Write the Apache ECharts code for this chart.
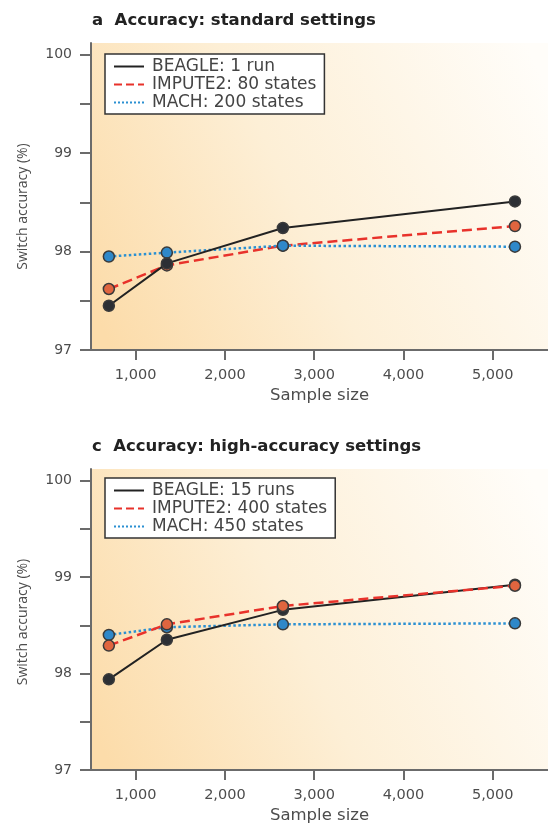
<!DOCTYPE html>
<html>
<head>
<meta charset="utf-8">
<script src="https://cdn.jsdelivr.net/npm/echarts@6/dist/echarts.min.js"></script>
<style>
  html, body { margin: 0; padding: 0; background: #fff; }
  #chartBox { width: 548px; height: 825px; }
</style>
</head>
<body>
<div id="chartBox"></div>
<script>
const sampleSizes = [700, 1350, 2650, 5250];
const xTickValues = [1000, 2000, 3000, 4000, 5000];
const yTickValues = [97, 97.5, 98, 98.5, 99, 99.5, 100];
const yLabelValues = [97, 98, 99, 100];

const titles = ["a  Accuracy: standard settings", "c  Accuracy: high-accuracy settings"];

const namesStd = ["BEAGLE: 1 run", "IMPUTE2: 80 states", "MACH: 200 states"];
const beagleStd = [97.45, 97.88, 98.24, 98.51];
const imputeStd = [97.62, 97.86, 98.06, 98.26];
const machStd = [97.95, 97.99, 98.06, 98.05];

const namesHigh = ["BEAGLE: 15 runs", "IMPUTE2: 400 states", "MACH: 450 states"];
const beagleHigh = [97.94, 98.35, 98.66, 98.92];
const imputeHigh = [98.29, 98.51, 98.70, 98.91];
const machHigh = [98.40, 98.48, 98.51, 98.52];

const chartDom = document.getElementById("chartBox");
const myChart = echarts.init(chartDom);

const axisGray = "#6b6b6b";
const textGray = "#4d4d4d";

function pairs(ys) {
  return sampleSizes.map((x, i) => [x, ys[i]]);
}

function bg() {
  return new echarts.graphic.LinearGradient(0, 0.85, 1, 0.15, [
    { offset: 0, color: "#fcdcaa" },
    { offset: 0.45, color: "#fdefd6" },
    { offset: 1, color: "#fffdf9" },
  ]);
}

function xAxisOf(i) {
  return {
    type: "value",
    gridIndex: i,
    min: 500,
    max: 5620,
    name: "Sample size",
    nameLocation: "middle",
    nameGap: 37,
    nameTextStyle: { fontFamily: "DejaVu Sans", fontSize: 16.5, color: textGray },
    axisLine: { show: true, lineStyle: { color: axisGray, width: 2 } },
    axisTick: { show: true, length: 10, customValues: xTickValues, lineStyle: { color: axisGray, width: 2 } },
    axisLabel: {
      customValues: xTickValues,
      fontFamily: "DejaVu Sans",
      fontSize: 14.5,
      color: textGray,
      margin: 18,
      formatter: (v) => v.toLocaleString("en-US"),
    },
    splitLine: { show: false },
  };
}

function yAxisOf(i) {
  return {
    type: "value",
    gridIndex: i,
    min: 97,
    max: 100.12,
    name: "Switch accuracy (%)",
    nameLocation: "middle",
    nameGap: 61,
    nameTextStyle: {
      fontFamily: "Open Sans",
      fontSize: 14,
      color: textGray,
      padding: i === 0 ? [0, 20, 0, 0] : [0, 5, 0, 0],
    },
    axisLine: { show: true, lineStyle: { color: axisGray, width: 2 } },
    axisTick: { show: true, length: 11, customValues: yTickValues, lineStyle: { color: axisGray, width: 2 } },
    axisLabel: {
      customValues: yLabelValues,
      fontFamily: "DejaVu Sans",
      fontSize: 14,
      color: textGray,
      margin: 19,
    },
    splitLine: { show: false },
  };
}

function lineSeries(name, ys, i, color, symColor, type, width, z) {
  return {
    name: name,
    type: "line",
    xAxisIndex: i,
    yAxisIndex: i,
    data: pairs(ys),
    symbol: "circle",
    symbolSize: 11,
    z: z,
    lineStyle: { color: color, type: type, width: width },
    itemStyle: { color: symColor, borderColor: "#3a3a3a", borderWidth: 1.5 },
    emphasis: { disabled: true },
  };
}

function legendOf(names, top) {
  return {
    orient: "vertical",
    left: 105,
    top: top,
    data: names,
    backgroundColor: "#fff",
    borderColor: "#333",
    borderWidth: 1.5,
    borderRadius: 0,
    padding: [4, 8, 3, 8],
    itemGap: 1,
    itemWidth: 30,
    itemHeight: 14,
    itemStyle: { opacity: 0 },
    textStyle: { fontFamily: "DejaVu Sans", fontSize: 17, lineHeight: 17, color: "#444", padding: [0, 0, 0, 3] },
    selectedMode: false,
  };
}

const option = {
  animation: false,
  title: titles.map((t, i) => ({
    text: t,
    left: 87,
    top: i === 0 ? 7 : 433,
    textStyle: { fontFamily: "DejaVu Sans", fontWeight: "bold", fontSize: 16.5, color: "#222" },
  })),
  grid: [
    { left: 91, top: 43, right: 0, height: 307, show: true, backgroundColor: bg(), borderWidth: 0 },
    { left: 91, top: 469, right: 0, height: 307, show: true, backgroundColor: bg(), borderWidth: 0 },
  ],
  xAxis: [xAxisOf(0), xAxisOf(1)],
  yAxis: [yAxisOf(0), yAxisOf(1)],
  legend: [legendOf(namesStd, 54), legendOf(namesHigh, 478)],
  series: [
    lineSeries(namesStd[1], imputeStd, 0, "#e8322b", "#e0653f", "dashed", 2.5, 2),
    lineSeries(namesStd[2], machStd, 0, "#2b90d2", "#2f88c9", "dotted", 2.5, 3),
    lineSeries(namesStd[0], beagleStd, 0, "#222", "#2c2f34", "solid", 2, 4),
    lineSeries(namesHigh[2], machHigh, 1, "#2b90d2", "#2f88c9", "dotted", 2.5, 2),
    lineSeries(namesHigh[0], beagleHigh, 1, "#222", "#2c2f34", "solid", 2, 3),
    lineSeries(namesHigh[1], imputeHigh, 1, "#e8322b", "#e0653f", "dashed", 2.5, 4),
  ],
};

option && myChart.setOption(option);
</script>
</body>
</html>
